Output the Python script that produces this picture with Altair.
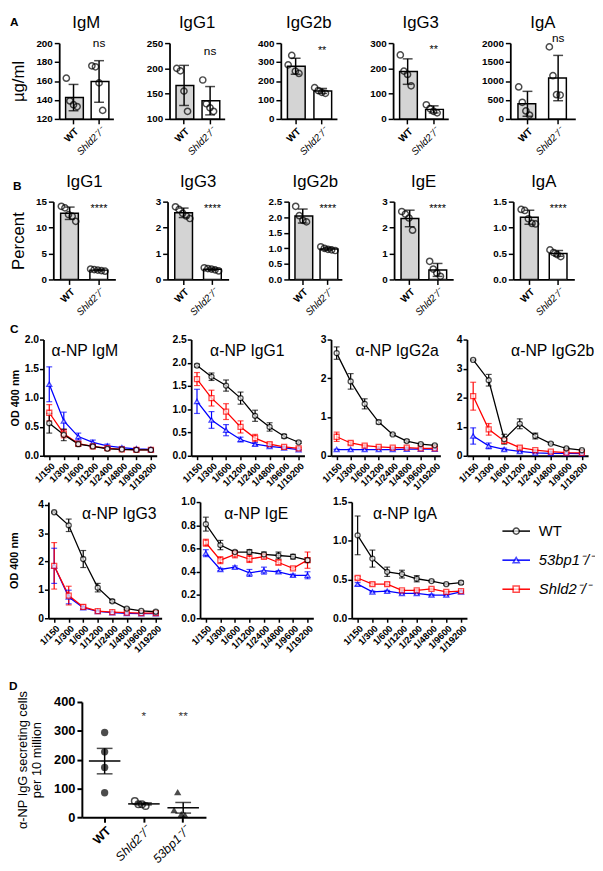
import altair as alt
import pandas as pd

FONT = "Liberation Sans"

# ---------------- data: panel A (serum Ig, µg/ml) ----------------
groups = ["WT", "Shld2⁻/⁻"]
a_names = ["IgM", "IgG1", "IgG2b", "IgG3", "IgA"]
a_wt = [[163, 139, 135, 133], [200, 195, 155, 115], [285, 335, 252, 240],
        [253, 189, 176, 131], [844, 439, 211, 101]]
a_sh = [[176, 175, 158, 129], [177, 130, 122, 115], [165, 150, 140, 135],
        [56, 41, 30, 24], [1900, 1140, 640, 630]]
a_sig = ["ns", "ns", "**", "**", "ns"]

# ---------------- data: panel B (percent switched) ----------------
b_names = ["IgG1", "IgG3", "IgG2b", "IgE", "IgA"]
b_wt = [[14.1, 13.8, 12.5, 12.2, 11.2], [2.8, 2.7, 2.55, 2.45, 2.35], [2.35, 2.05, 1.9, 1.85],
        [2.62, 2.52, 2.37, 1.9], [1.35, 1.33, 1.17, 1.08, 1.07]]
b_sh = [[2.0, 1.9, 1.8, 1.7, 1.6], [0.45, 0.42, 0.40, 0.37, 0.33], [1.05, 1.0, 0.97, 0.95, 0.93],
        [0.7, 0.4, 0.25, 0.12], [0.57, 0.52, 0.48, 0.44]]
b_sig = ["****", "****", "****", "****", "****"]

# ---------------- data: panel C (ELISA OD 400 nm) ----------------
dilutions = ["1/150", "1/300", "1/600", "1/1200", "1/2400", "1/4800", "1/9600", "1/19200"]
c_series = ["WT", "53bp1⁻/⁻", "Shld2⁻/⁻"]
c_names = ["α-NP IgM", "α-NP IgG1", "α-NP IgG2a", "α-NP IgG2b", "α-NP IgG3", "α-NP IgE", "α-NP IgA"]
c_wt_mean = [
    [0.56, 0.36, 0.20, 0.16, 0.12, 0.11, 0.10, 0.10],
    [1.94, 1.70, 1.51, 1.24, 0.86, 0.62, 0.42, 0.29],
    [2.65, 1.92, 1.34, 0.87, 0.55, 0.38, 0.30, 0.27],
    [3.30, 2.60, 0.57, 1.10, 0.68, 0.42, 0.25, 0.19],
    [3.74, 3.28, 2.09, 1.08, 0.60, 0.34, 0.26, 0.23],
    [0.81, 0.63, 0.57, 0.57, 0.55, 0.54, 0.53, 0.50],
    [1.07, 0.77, 0.60, 0.57, 0.51, 0.48, 0.44, 0.46],
]
c_wt_err = [
    [0.17, 0.10, 0.04, 0.02, 0.02, 0.01, 0.01, 0.01],
    [0.03, 0.08, 0.12, 0.13, 0.12, 0.09, 0.04, 0.02],
    [0.16, 0.20, 0.13, 0.05, 0.02, 0.03, 0.02, 0.02],
    [0.02, 0.20, 0.17, 0.17, 0.10, 0.03, 0.03, 0.02],
    [0.02, 0.22, 0.30, 0.15, 0.05, 0.03, 0.02, 0.02],
    [0.06, 0.04, 0.01, 0.02, 0.02, 0.03, 0.02, 0.02],
    [0.25, 0.11, 0.06, 0.05, 0.04, 0.01, 0.01, 0.02],
]
c_bp_mean = [
    [1.23, 0.60, 0.33, 0.23, 0.17, 0.14, 0.12, 0.11],
    [1.17, 0.77, 0.55, 0.35, 0.25, 0.20, 0.17, 0.13],
    [0.16, 0.16, 0.16, 0.16, 0.16, 0.17, 0.17, 0.17],
    [0.68, 0.34, 0.22, 0.15, 0.10, 0.08, 0.08, 0.07],
    [1.85, 0.75, 0.37, 0.24, 0.20, 0.17, 0.16, 0.16],
    [0.56, 0.42, 0.44, 0.39, 0.41, 0.40, 0.37, 0.37],
    [0.44, 0.34, 0.35, 0.32, 0.32, 0.30, 0.30, 0.34],
]
c_bp_err = [
    [0.30, 0.15, 0.06, 0.04, 0.03, 0.02, 0.02, 0.02],
    [0.26, 0.18, 0.12, 0.05, 0.03, 0.02, 0.02, 0.01],
    [0.01, 0.01, 0.01, 0.01, 0.01, 0.01, 0.01, 0.01],
    [0.28, 0.10, 0.04, 0.03, 0.02, 0.01, 0.01, 0.01],
    [0.62, 0.24, 0.05, 0.03, 0.02, 0.02, 0.02, 0.02],
    [0.03, 0.01, 0.01, 0.03, 0.03, 0.01, 0.01, 0.03],
    [0.02, 0.01, 0.01, 0.01, 0.01, 0.01, 0.01, 0.01],
]
c_sh_mean = [
    [0.74, 0.38, 0.21, 0.16, 0.13, 0.11, 0.10, 0.10],
    [1.65, 1.24, 0.95, 0.62, 0.38, 0.25, 0.19, 0.16],
    [0.49, 0.33, 0.26, 0.23, 0.21, 0.21, 0.19, 0.19],
    [2.05, 0.91, 0.51, 0.28, 0.19, 0.14, 0.11, 0.10],
    [1.85, 0.80, 0.40, 0.25, 0.22, 0.20, 0.18, 0.18],
    [0.65, 0.50, 0.55, 0.51, 0.53, 0.48, 0.43, 0.50],
    [0.52, 0.44, 0.44, 0.36, 0.36, 0.38, 0.34, 0.35],
]
c_sh_err = [
    [0.14, 0.07, 0.03, 0.02, 0.01, 0.01, 0.01, 0.01],
    [0.14, 0.17, 0.17, 0.13, 0.08, 0.03, 0.02, 0.02],
    [0.12, 0.04, 0.03, 0.02, 0.02, 0.02, 0.02, 0.01],
    [0.48, 0.20, 0.08, 0.05, 0.02, 0.02, 0.01, 0.01],
    [0.82, 0.33, 0.07, 0.03, 0.02, 0.02, 0.02, 0.02],
    [0.03, 0.03, 0.03, 0.03, 0.02, 0.02, 0.01, 0.07],
    [0.02, 0.02, 0.02, 0.01, 0.01, 0.01, 0.01, 0.01],
]

# ---------------- data: panel D (ELISpot) ----------------
d_groups = ["WT", "Shld2⁻/⁻", "53bp1⁻/⁻"]
d_wt = [294, 227, 173, 85]
d_sh = [56, 45, 45, 39]
d_bp = [25, 87, 11, 8]
d_sig = ["*", "**"]

# ---------------- styling / layout ----------------
a_domains = [(120, 200), (100, 250), (0, 400), (0, 300), (0, 2000)]
a_ticks = [[120, 140, 160, 180, 200], [100, 150, 200, 250], [0, 100, 200, 300, 400],
           [0, 100, 200, 300], [0, 500, 1000, 1500, 2000]]
a_sig_y = [200, 234, 356, 272, 2140]
a_widths = [55, 56, 57, 56, 66]

b_domains = [(0, 15), (0, 3), (0, 2.5), (0, 3), (0, 1.5)]
b_ticks = [[0, 5, 10, 15], [0, 1, 2, 3], [0, 0.5, 1, 1.5, 2, 2.5], [0, 1, 2, 3], [0, 0.5, 1, 1.5]]
b_fmt = ["d", "d", ".1f", "d", ".1f"]
b_widths = [63, 62, 54, 60, 62]

c_domains = [(0, 2), (0, 2.5), (0, 3), (0, 4), (0, 4.1), (0, 1), (0, 1.5)]
c_ticks = [[0, 0.5, 1, 1.5, 2], [0, 0.5, 1, 1.5, 2, 2.5], [0, 1, 2, 3], [0, 1, 2, 3, 4],
           [0, 1, 2, 3, 4], [0, 0.2, 0.4, 0.6, 0.8, 1.0], [0, 0.5, 1, 1.5]]
c_fmt = [".1f", ".1f", "d", "d", "d", ".1f", ".1f"]
c_label_x = [42, 57, 67, 87, 72, 57, 54]
c_widths = [115, 115, 111, 123, 115, 115, 117]

WT_BOLD = {"condition": {"test": "datum.value === 'WT'", "value": "bold"}, "value": "normal"}
KO_ITAL = {"condition": {"test": "datum.value === 'WT'", "value": "normal"}, "value": "italic"}


def text_layer(t, dx, dy, size, weight="normal", align="left"):
    return alt.Chart(pd.DataFrame({"t": [t]})).mark_text(
        align=align, baseline="middle", fontSize=size, fontWeight=weight, font=FONT, color="black"
    ).encode(text="t:N", x=alt.value(dx), y=alt.value(dy))


def pad_layer(dy):
    # invisible anchor that reserves vertical room above a row
    return alt.Chart(pd.DataFrame({"t": [0]})).mark_point(
        size=1, filled=True, color="white", opacity=0).encode(x=alt.value(0), y=alt.value(dy))


def spacer():
    return alt.Chart(pd.DataFrame({"t": [""]})).mark_text().encode(
        text="t:N", x=alt.value(0), y=alt.value(0)).properties(width=1, height=1)


def bar_panel(name, wt, sh, sig, dom, ticks, fmt, width, height, ytitle, tpad, sig_y, title_dy,
              letter=None, ldx=0, ldy=0, pad=None):
    df = pd.DataFrame({
        "group": [groups[0]] * len(wt) + [groups[1]] * len(sh),
        "rep": [str(i + 1) for i in range(len(wt))] + [str(i + 1) for i in range(len(sh))],
        "value": list(wt) + list(sh),
    })
    x = alt.X("group:N", sort=groups, title=None,
              scale=alt.Scale(paddingInner=0.38, paddingOuter=0.25),
              axis=alt.Axis(labelAngle=-45, labelAlign="right", labelBaseline="top", labelFontSize=10,
                            labelFontWeight=WT_BOLD, labelFontStyle=KO_ITAL, tickSize=5, tickWidth=1.5,
                            domainWidth=1.8, labelPadding=2))
    ysc = alt.Scale(domain=list(dom), nice=False, zero=False)
    yax = alt.Axis(values=ticks, format=fmt, title=ytitle, titleFontSize=17, titleFontWeight="normal",
                   titlePadding=tpad, labelFontSize=10, labelFontWeight="bold", tickSize=5,
                   tickWidth=1.5, domainWidth=1.8, labelPadding=2, labelOverlap=False)
    base = alt.Chart(df)
    bars = base.mark_bar(clip=True, stroke="black", strokeWidth=1.5).encode(
        x=x, y=alt.Y("mean(value):Q", scale=ysc, axis=yax, stack=None),
        fill=alt.Fill("group:N", scale=alt.Scale(domain=groups, range=["#d4d4d4", "#ffffff"]), legend=None))
    stats = base.transform_aggregate(m="mean(value)", s="stdev(value)", groupby=["group"]).transform_calculate(
        lo="datum.m - datum.s", hi="datum.m + datum.s")
    rule = stats.mark_rule(color="black", strokeWidth=1.5).encode(
        x=x, y=alt.Y("lo:Q", scale=ysc, axis=yax), y2="hi:Q")
    cap_lo = stats.mark_tick(color="black", thickness=1.5, size=10).encode(
        x=x, y=alt.Y("lo:Q", scale=ysc, axis=yax))
    cap_hi = stats.mark_tick(color="black", thickness=1.5, size=10).encode(
        x=x, y=alt.Y("hi:Q", scale=ysc, axis=yax))
    pts = base.mark_point(shape="circle", filled=False, color="black", strokeWidth=1.5, size=40).encode(
        x=x, xOffset=alt.XOffset("rep:N", scale=alt.Scale(paddingOuter=0.2)),
        y=alt.Y("value:Q", scale=ysc, axis=yax))
    star = alt.Chart(pd.DataFrame({"group": [groups[1]], "t": [sig]})).mark_text(
        fontSize=12 if sig == "ns" else 11, font=FONT, color="black", baseline="middle").encode(
        x=x, y=alt.YDatum(sig_y, type="quantitative", scale=ysc, axis=yax), text="t:N")
    layers = [bars, rule, cap_lo, cap_hi, pts, star,
              text_layer(name, width / 2, title_dy, 17, align="center")]
    if letter:
        layers.append(text_layer(letter, ldx, ldy, 12, weight="bold"))
    if pad is not None:
        layers.append(pad_layer(pad))
    return alt.layer(*layers).properties(width=width, height=height)


def od_panel(i, width, height, first, letter=None, ldx=0, ldy=0, pad=None, tpad=4):
    rows = []
    for s, means, errs in [(c_series[1], c_bp_mean[i], c_bp_err[i]),
                           (c_series[2], c_sh_mean[i], c_sh_err[i]),
                           (c_series[0], c_wt_mean[i], c_wt_err[i])]:
        for d, m, e in zip(dilutions, means, errs):
            rows.append({"series": s, "dil": d, "mean": m, "err": e})
    df = pd.DataFrame(rows)
    base = alt.Chart(df)
    x = alt.X("dil:N", sort=dilutions, title=None, scale=alt.Scale(type="point", padding=0.4),
              axis=alt.Axis(labelAngle=-45, labelAlign="right", labelBaseline="top", labelFontSize=9.5,
                            labelFontWeight="bold", tickSize=4, tickWidth=1.5, domainWidth=1.8,
                            labelPadding=1))
    ysc = alt.Scale(domain=list(c_domains[i]), nice=False, zero=True)
    yax = alt.Axis(values=c_ticks[i], format=c_fmt[i], title="OD 400 nm" if first else None,
                   titleFontSize=11, titleFontWeight="bold", titlePadding=tpad, labelFontSize=10.5,
                   labelFontWeight="bold", tickSize=4, tickWidth=1.5, domainWidth=1.8, labelPadding=1,
                   labelOverlap=False)
    cscale = alt.Scale(domain=c_series, range=["#000000", "#0000ff", "#ff0000"])
    col = alt.Color("series:N", scale=cscale, legend=None)
    line = base.mark_line(strokeWidth=1.3).encode(x=x, y=alt.Y("mean:Q", scale=ysc, axis=yax), color=col)
    eb = base.transform_calculate(lo="datum.mean - datum.err", hi="datum.mean + datum.err")
    rule = eb.mark_rule(strokeWidth=1.2).encode(x=x, y=alt.Y("lo:Q", scale=ysc, axis=yax), y2="hi:Q",
                                                 color=col)
    cap_lo = eb.mark_tick(size=6, thickness=1.2).encode(x=x, y=alt.Y("lo:Q", scale=ysc, axis=yax), color=col)
    cap_hi = eb.mark_tick(size=6, thickness=1.2).encode(x=x, y=alt.Y("hi:Q", scale=ysc, axis=yax), color=col)
    pts = base.mark_point(filled=True, fill="white", size=26, strokeWidth=1.3).encode(
        x=x, y=alt.Y("mean:Q", scale=ysc, axis=yax),
        stroke=alt.Stroke("series:N", scale=cscale, legend=None),
        shape=alt.Shape("series:N", scale=alt.Scale(domain=c_series, range=["circle", "triangle-up", "square"]),
                        legend=None))
    layers = [line, rule, cap_lo, cap_hi, pts, text_layer(c_names[i], c_label_x[i], 12, 16, align="center")]
    if letter:
        layers.append(text_layer(letter, ldx, ldy, 12, weight="bold"))
    if pad is not None:
        layers.append(pad_layer(pad))
    return alt.layer(*layers).properties(width=width, height=height)


def legend_panel(height):
    ldf = pd.DataFrame({"series": c_series})
    ly = alt.Y("series:N", sort=c_series, axis=None, scale=alt.Scale(type="point", padding=1.5))
    cscale = alt.Scale(domain=c_series, range=["#000000", "#0000ff", "#ff0000"])
    base = alt.Chart(ldf)
    seg = base.mark_rule(strokeWidth=1.5).encode(
        y=ly, x=alt.value(17), x2=alt.value(45), color=alt.Color("series:N", scale=cscale, legend=None))
    sym = base.mark_point(filled=True, fill="white", size=40, strokeWidth=1.5).encode(
        y=ly, x=alt.value(31), stroke=alt.Stroke("series:N", scale=cscale, legend=None),
        shape=alt.Shape("series:N", scale=alt.Scale(domain=c_series, range=["circle", "triangle-up", "square"]),
                        legend=None))
    t1 = base.transform_filter(alt.datum.series == "WT").mark_text(
        align="left", baseline="middle", fontSize=15, font=FONT, color="black").encode(
        y=ly, x=alt.value(54), text="series:N")
    t2 = base.transform_filter(alt.datum.series != "WT").mark_text(
        align="left", baseline="middle", fontSize=15, font=FONT, color="black", fontStyle="italic").encode(
        y=ly, x=alt.value(54), text="series:N")
    return alt.layer(seg, sym, t1, t2).properties(width=105, height=height)


def elispot_panel(pad):
    df = pd.DataFrame({
        "group": [d_groups[0]] * len(d_wt) + [d_groups[1]] * len(d_sh) + [d_groups[2]] * len(d_bp),
        "rep": [str(i + 1) for i in range(len(d_wt))] + [str(i + 1) for i in range(len(d_sh))]
               + [str(i + 1) for i in range(len(d_bp))],
        "value": d_wt + d_sh + d_bp,
    })
    x = alt.X("group:N", sort=d_groups, title=None, scale=alt.Scale(paddingInner=0.5, paddingOuter=0.33),
              axis=alt.Axis(labelAngle=-45, labelAlign="right", labelBaseline="top", labelFontSize=12.5,
                            labelFontWeight=WT_BOLD, labelFontStyle=KO_ITAL, tickSize=5, tickWidth=2,
                            domainWidth=2, labelPadding=2))
    ysc = alt.Scale(domain=[0, 400], nice=False)
    yax = alt.Axis(values=[0, 100, 200, 300, 400], title=["α-NP IgG secreting cells", "per 10 million"],
                   titleFontSize=13, titleFontWeight="normal", titlePadding=10, labelFontSize=13,
                   labelFontWeight="bold", tickSize=5, tickWidth=2, domainWidth=2, labelPadding=2,
                   labelOverlap=False)
    base = alt.Chart(df)
    xo = alt.XOffset("rep:N", scale=alt.Scale(paddingOuter=0.1))
    wt = base.transform_filter(alt.datum.group == d_groups[0]).mark_point(
        shape="circle", filled=True, color="black", size=55).encode(x=x, y=alt.Y("value:Q", scale=ysc, axis=yax))
    sh = base.transform_filter(alt.datum.group == d_groups[1]).mark_point(
        shape="circle", filled=False, color="black", strokeWidth=1.5, size=45).encode(
        x=x, xOffset=xo, y=alt.Y("value:Q", scale=ysc, axis=yax))
    bp = base.transform_filter(alt.datum.group == d_groups[2]).mark_point(
        shape="triangle-up", filled=True, color="black", size=55).encode(
        x=x, xOffset=xo, y=alt.Y("value:Q", scale=ysc, axis=yax))
    mean = base.mark_tick(color="black", thickness=1.5, size=32).encode(
        x=x, y=alt.Y("mean(value):Q", scale=ysc, axis=yax))
    stats = base.transform_aggregate(m="mean(value)", s="stderr(value)", groupby=["group"]).transform_calculate(
        lo="datum.m - datum.s", hi="datum.m + datum.s")
    rule = stats.mark_rule(color="black", strokeWidth=1.5).encode(
        x=x, y=alt.Y("lo:Q", scale=ysc, axis=yax), y2="hi:Q")
    cap_lo = stats.mark_tick(color="black", thickness=1.5, size=16).encode(x=x, y=alt.Y("lo:Q", scale=ysc, axis=yax))
    cap_hi = stats.mark_tick(color="black", thickness=1.5, size=16).encode(x=x, y=alt.Y("hi:Q", scale=ysc, axis=yax))
    stars = alt.Chart(pd.DataFrame({"group": d_groups[1:], "t": d_sig})).mark_text(
        fontSize=12, font=FONT, color="#333333", baseline="middle").encode(
        x=x, y=alt.YDatum(352, type="quantitative", scale=ysc, axis=yax), text="t:N")
    return alt.layer(wt, sh, bp, mean, rule, cap_lo, cap_hi, stars,
                     text_layer("D", -74, -16, 12, weight="bold"), pad_layer(pad)).properties(
        width=126, height=117)


def row(panels, spacing):
    return alt.hconcat(spacer(), alt.hconcat(*panels, spacing=spacing), spacing=0)


row_a = row([
    bar_panel(a_names[i], a_wt[i], a_sh[i], a_sig[i], a_domains[i], a_ticks[i], "d", a_widths[i], 77,
              "µg/ml" if i == 0 else None, 9, a_sig_y[i], -20,
              letter="A" if i == 0 else None, ldx=-50, ldy=-21)
    for i in range(5)], 33)

row_b = row([
    bar_panel(b_names[i], b_wt[i], b_sh[i], b_sig[i], b_domains[i], b_ticks[i], b_fmt[i], b_widths[i], 79,
              "Percent" if i == 0 else None, 8, 0.9 * b_domains[i][1], -20,
              letter="B" if i == 0 else None, ldx=-41, ldy=-16, pad=-39 if i == 0 else None)
    for i in range(5)], 40)

row_c1 = row([
    od_panel(i, c_widths[i], 118, i == 0, letter="C" if i == 0 else None, ldx=-34, ldy=-11)
    for i in range(4)], 14)

row_c2 = row([od_panel(i, c_widths[i], 118, i == 4, tpad=18 if i == 4 else 4)
              for i in range(4, 7)] + [legend_panel(118)], 18)

row_d = row([elispot_panel(-43)], 0)

chart = alt.vconcat(row_a, row_b, row_c1, row_c2, row_d, spacing=5).properties(
    padding=0
).configure_view(stroke=None).configure_axis(
    grid=False, domainColor="black", tickColor="black", labelColor="black", titleColor="black",
    labelFont=FONT, titleFont=FONT
).configure_text(font=FONT)

chart.save("out.html", embed_options={"renderer": "svg", "actions": False})
